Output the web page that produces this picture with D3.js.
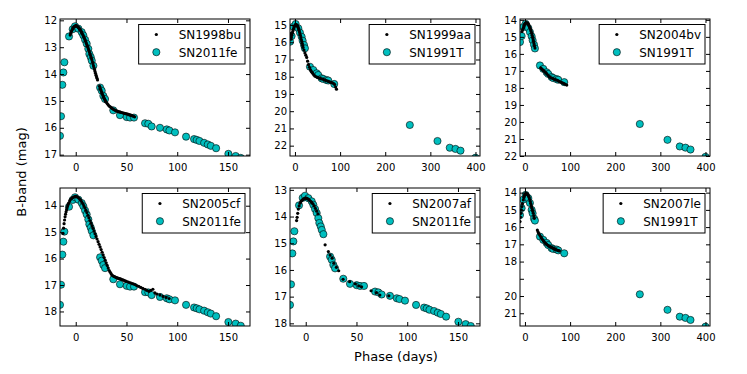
<!DOCTYPE html>
<html>
<head>
<meta charset="utf-8">
<script src="https://cdn.jsdelivr.net/npm/d3@7/dist/d3.min.js"></script>
<style>
body { margin: 0; background: #fff; }
text { font-family: "DejaVu Sans", sans-serif; }
</style>
</head>
<body>
<div id="chart"></div>
<script>

// ---- data: [phase (days), B mag] ----

// black dots, one SN per panel
var sn1998bu = [[-5.5,12.55],[-5,12.48],[-4.5,12.43],[-4,12.39],[-3.5,12.35],[-3,12.31],[-2.5,12.28],[-2,12.25],
    [-1.5,12.23],[-1,12.22],[-0.5,12.21],[0,12.2],[0.5,12.2],[1,12.21],[1.5,12.22],[2,12.24],[2.5,12.26],[3,12.28],
    [3.5,12.3],[4,12.33],[4.5,12.36],[5,12.39],[5.5,12.42],[6,12.46],[6.5,12.5],[7,12.54],[7.5,12.58],[8,12.62],
    [8.5,12.66],[9,12.71],[9.5,12.76],[10,12.81],[10.5,12.86],[11,12.91],[11.5,12.96],[12,13.01],[12.5,13.07],
    [13,13.12],[13.5,13.18],[14,13.24],[14.5,13.3],[15,13.36],[15.5,13.42],[16,13.48],[16.5,13.55],[17,13.62],
    [17.5,13.69],[18,13.76],[18.5,13.83],[19,13.9],[19.5,13.97],[20,14.04],[20.5,14.1],[21,14.16],[21.5,14.22],
    [23.5,14.45],[24,14.52],[24.5,14.57],[25,14.62],[25.5,14.67],[26,14.72],[26.5,14.77],[27,14.82],[27.5,14.86],
    [28,14.9],[28.5,14.94],[29,14.98],[29.5,15.02],[30,15.05],[31,15.1],[32,15.15],[33,15.19],[34,15.22],[35,15.25],
    [36,15.28],[37,15.31],[38,15.33],[39,15.35],[40,15.37],[41,15.38],[42,15.4],[43,15.41],[44,15.42],[45,15.43],
    [46,15.44],[47,15.45],[48,15.46],[49,15.47],[50,15.48],[51,15.49],[52,15.5],[53,15.52],[54,15.53],[55,15.54],
    [56,15.56],[57,15.57],[58,15.59]];

var sn1999aa = [[-11,15.5],[-10,15.62],[-9,15.82],[-8,15.72],[-7,15.6],[-6,15.48],[-5,15.38],[-4,15.28],[-3,15.2],
    [-2,15.12],[-1,15.06],[0,15.02],[1,14.98],[2,14.97],[3,14.98],[4,15.0],[5,15.03],[6,15.08],[7,15.14],[8,15.21],
    [9,15.3],[10,15.4],[11,15.5],[12,15.6],[13,15.72],[14,15.84],[15,15.95],[16,16.06],[17,16.18],[18,16.3],
    [20,16.45],[22,16.62],[24,16.75],[26,16.88],[28,17.1],[30,17.3],[32,17.45],[34,17.58],[36,17.68],[38,17.76],
    [40,17.83],[42,17.9],[44,17.96],[47,18.0],[50,18.04],[53,18.07],[56,18.1],[59,18.12],[62,18.14],[65,18.18],
    [68,18.21],[71,18.24],[74,18.27],[77,18.3],[80,18.33],[83,18.36],[86,18.4],[88,18.45],[90,18.6],[92,18.72]];

var sn2004bv = [[-6.7,14.69],[-5.2,14.58],[-3.7,14.49],[-2.6,14.4],[-1.5,14.3],[-0.4,14.24],[0.7,14.2],[2.2,14.17],
    [3.7,14.16],[5.2,14.19],[6.3,14.22],[7.4,14.24],[8.5,14.31],[9.6,14.39],[10.6,14.46],[11.6,14.52],[12.6,14.59],
    [13.7,14.68],[14.8,14.78],[15.9,14.9],[17,15.02],[17.8,15.11],[18.5,15.21],[19.3,15.3],[20,15.4],[21.1,15.53],
    [22.2,15.66],[34.8,16.82],[36.8,16.88],[38.8,16.93],[40.7,16.98],[42.7,17.02],[44.6,17.07],[46.6,17.11],
    [49,17.19],[51.5,17.27],[54,17.35],[56.9,17.39],[59.9,17.43],[62.9,17.46],[65.4,17.49],[67.9,17.52],[70.4,17.54],
    [72.9,17.57],[75.3,17.61],[77.8,17.64],[80.3,17.67],[82.7,17.7],[85.2,17.73],[87.7,17.76],[90.1,17.8],[92.6,17.83]];

var sn2005cf = [[-12.5,15.05],[-12,14.85],[-11.5,14.68],[-11,14.54],[-10.5,14.42],[-10,14.32],[-9.5,14.23],[-9,14.15],
    [-8.5,14.08],[-8,14.01],[-7.5,13.95],[-7,13.9],[-6,13.82],[-5,13.76],[-4,13.72],[-3,13.69],[-2,13.67],[-1,13.66],
    [0,13.65],[1,13.66],[2,13.68],[3,13.71],[4,13.75],[5,13.8],[6,13.86],[7,13.93],[8,14.0],[9,14.08],[10,14.17],
    [11,14.26],[12,14.36],[13,14.46],[14,14.56],[15,14.66],[16,14.76],[17,14.86],[18,14.96],[19,15.06],[20,15.16],
    [21,15.26],[22,15.36],[23,15.46],[24,15.56],[25,15.66],[26,15.76],[27,15.86],[28,15.96],[29,16.06],[30,16.16],
    [31,16.26],[32,16.36],[33,16.45],[34,16.52],[35,16.58],[36,16.63],[37,16.66],[38,16.68],[39,16.7],[40,16.72],
    [41,16.73],[42,16.75],[43,16.76],[44,16.77],[45,16.79],[46,16.8],[47,16.81],[48,16.83],[49,16.85],[50,16.86],
    [52,16.89],[54,16.92],[56,16.95],[58,16.98],[60,17.02],[62,17.05],[64,17.09],[66,17.13],[68,17.16],[70,17.2],
    [72,17.24],[74,17.2],[76,17.16],[78,17.3],[80,17.34],[83,17.38],[86,17.43],[89,17.47],[92,17.51]];

var sn2007af = [[-9,14.15],[-8.5,14.03],[-7.9,13.88],[-7.3,13.72],[-6.5,13.6],[-5.6,13.5],[-4.8,13.44],[-4,13.4],
    [-3.2,13.37],[-2.4,13.35],[-1.5,13.33],[-0.5,13.31],[0.3,13.31],[1.2,13.32],[2,13.34],[3,13.36],[4,13.4],
    [5.2,13.44],[6.2,13.49],[7.2,13.53],[8.3,13.6],[9.5,13.69],[10.8,13.8],[12,13.9],[19.1,15.06],[22.3,15.31],
    [24,15.44],[26,15.56],[27.6,15.75],[30.2,15.9],[32.5,16.03],[36.8,16.35],[43.3,16.44],[48.9,16.52],[52.2,16.6],
    [55,16.63],[64.4,16.78],[69.7,16.85],[73,16.94],[81.9,16.97]];

var sn2007le = [[-11,15.68],[-10,15.42],[-9,15.2],[-8,15.0],[-6.7,14.81],[-5.5,14.64],[-3.7,14.42],[-2.5,14.28],
    [-1.5,14.19],[-0.7,14.13],[0.5,14.08],[1.5,14.05],[2.2,14.04],[3.5,14.05],[4.5,14.07],[5.5,14.1],[6.7,14.13],
    [7.7,14.18],[8.6,14.24],[9.6,14.3],[10.6,14.4],[11.6,14.5],[12.6,14.62],[13.6,14.72],[14.6,14.82],[15.6,14.91],
    [16.6,15.01],[17.5,15.1],[18.5,15.2],[19.6,15.35],[20.7,15.49],[27.4,16.17],[28.9,16.27],[30.4,16.36],
    [32.6,16.46],[34.8,16.55],[36.8,16.64],[38.8,16.72],[40.7,16.79],[42.6,16.85],[44.4,16.91],[46.2,16.96],
    [48,17.0],[50,17.04],[52,17.08],[53.8,17.11],[55.6,17.13],[57.5,17.16],[59.3,17.19],[61.2,17.21],[63,17.23],
    [64.8,17.26],[66.7,17.28],[68.5,17.31],[70.4,17.33],[72.4,17.35],[74.3,17.37],[76.3,17.38]];

// cyan comparison curves
var sn2011fePhase = [-15.5,-14.5,-13.2,-12.2,-11.2,-6.6,-3,-0.7,2.6,5.9,7.5,9.2,10.8,12.4,13.4,14.8,15.8,17.4,
    24,25.6,27.2,28.9,37,43.6,50.2,53.5,57.4,68.3,71.5,74.8,83,89.7,92.3,97.8,108.7,116.6,119.2,121.9,126.5,
    130.1,133.1,138.3,150.4,157.6,162.6];
var sn2011feMag1 = [16.3,15.57,14.4,13.94,13.56,12.6,12.33,12.22,12.31,12.44,12.56,12.72,12.87,13.06,13.25,13.37,
    13.5,13.69,14.5,14.62,14.81,14.93,15.35,15.53,15.6,15.62,15.62,15.83,15.85,15.95,16.0,16.06,16.1,16.17,16.33,
    16.42,16.45,16.49,16.56,16.62,16.67,16.76,16.97,17.05,17.12];
var sn2011feMag4 = [17.75,16.99,15.85,15.36,14.98,14.04,13.78,13.68,13.77,13.9,14.02,14.18,14.33,14.52,14.7,14.83,
    14.96,15.12,15.95,16.08,16.24,16.36,16.78,16.97,17.03,17.06,17.06,17.27,17.28,17.38,17.45,17.5,17.54,17.58,
    17.75,17.85,17.88,17.92,17.97,18.03,18.08,18.18,18.4,18.46,18.54];
var sn2011feMag5 = [17.31,16.54,15.38,14.93,14.55,13.58,13.3,13.22,13.31,13.43,13.56,13.72,13.87,14.06,14.24,14.37,
    14.5,14.66,15.5,15.62,15.81,15.94,16.33,16.52,16.57,16.6,16.6,16.81,16.84,16.92,16.97,17.06,17.09,17.15,17.31,
    17.41,17.44,17.49,17.54,17.6,17.65,17.75,17.94,18.03,18.1];

var sn1991tPhase = [-11,-7.4,-3.7,1.5,7.4,11,14.8,17,20,22.1,33.2,40.6,48,51.6,59,62.7,70,73.8,87,
    254.5,315.8,343,355.7,366.8,400];
var sn1991tMag2 = [15.97,15.64,15.1,14.94,15.19,15.44,15.68,15.91,16.16,16.35,17.42,17.61,17.8,17.9,18.09,18.13,
    18.19,18.22,18.42,20.8,21.73,22.12,22.19,22.29,22.7];
var sn1991tMag3 = [15.3,14.95,14.42,14.23,14.48,14.72,14.97,15.2,15.46,15.68,16.68,16.88,17.08,17.18,17.36,17.42,
    17.48,17.52,17.66,20.12,21.05,21.44,21.51,21.62,22.05];
var sn1991tMag6 = [15.3,14.9,14.4,14.13,14.32,14.6,15.0,15.2,15.5,15.62,16.55,16.74,16.92,17.04,17.22,17.27,
    17.3,17.35,17.52,19.9,20.8,21.2,21.27,21.39,21.78];

// ticks
var xTicksShort = [0, 50, 100, 150];
var xTicksLong = [0, 100, 200, 300, 400];

var panels = [
    {col: 0, row: 0, black: sn1998bu, blackName: "SN1998bu", cyanPhase: sn2011fePhase, cyanMag: sn2011feMag1, cyanName: "SN2011fe",
     xDomain: [-15.5, 171.7], yDomain: [11.95, 17.05], xTicks: xTicksShort, yTicks: [12,13,14,15,16,17]},
    {col: 1, row: 0, black: sn1999aa, blackName: "SN1999aa", cyanPhase: sn1991tPhase, cyanMag: sn1991tMag2, cyanName: "SN1991T",
     xDomain: [-11, 410], yDomain: [14.65, 22.6], xTicks: xTicksLong, yTicks: [15,16,17,18,19,20,21,22]},
    {col: 2, row: 0, black: sn2004bv, blackName: "SN2004bv", cyanPhase: sn1991tPhase, cyanMag: sn1991tMag3, cyanName: "SN1991T",
     xDomain: [-11, 410], yDomain: [13.95, 22.0], xTicks: xTicksLong, yTicks: [14,15,16,17,18,19,20,21,22]},
    {col: 0, row: 1, black: sn2005cf, blackName: "SN2005cf", cyanPhase: sn2011fePhase, cyanMag: sn2011feMag4, cyanName: "SN2011fe",
     xDomain: [-15.5, 171.7], yDomain: [13.33, 18.55], xTicks: xTicksShort, yTicks: [14,15,16,17,18]},
    {col: 1, row: 1, black: sn2007af, blackName: "SN2007af", cyanPhase: sn2011fePhase, cyanMag: sn2011feMag5, cyanName: "SN2011fe",
     xDomain: [-15.5, 171.7], yDomain: [12.93, 18.1], xTicks: xTicksShort, yTicks: [13,14,15,16,17,18]},
    // the "19" label is not printed in this panel of the original, only its tick
    {col: 2, row: 1, black: sn2007le, blackName: "SN2007le", cyanPhase: sn1991tPhase, cyanMag: sn1991tMag6, cyanName: "SN1991T",
     xDomain: [-11, 410], yDomain: [13.73, 21.74], xTicks: xTicksLong, yTicks: [14,15,16,17,18,19,20,21], yHide: [19]}
];

// ---- layout ----
var W = 747, H = 374;
var colX = [60, 290, 520], panelW = 190;
var rowY = [19, 188], rowH = [137, 138];
var cyan = "#00bfbf";
var refR = 3.6, dotR = 1.6;

var svg = d3.select("#chart").append("svg")
    .attr("width", W)
    .attr("height", H);

panels.forEach(function(p, i) {
    var h = rowH[p.row];
    var g = svg.append("g")
        .attr("transform", "translate(" + colX[p.col] + "," + rowY[p.row] + ")");

    var x = d3.scaleLinear().domain(p.xDomain).range([0, panelW]);
    // magnitudes: bright on top
    var y = d3.scaleLinear().domain(p.yDomain).range([0, h]);

    g.append("clipPath").attr("id", "clip" + i)
        .append("rect").attr("width", panelW).attr("height", h);

    var plot = g.append("g").attr("clip-path", "url(#clip" + i + ")");

    plot.selectAll(".ref")
        .data(p.cyanPhase)
        .enter().append("circle")
        .attr("class", "ref")
        .attr("cx", function(d) { return x(d); })
        .attr("cy", function(d, j) { return y(p.cyanMag[j]); })
        .attr("r", refR)
        .attr("fill", cyan)
        .attr("stroke", "#000")
        .attr("stroke-width", 0.6);

    plot.selectAll(".dot")
        .data(p.black)
        .enter().append("circle")
        .attr("class", "dot")
        .attr("cx", function(d) { return x(d[0]); })
        .attr("cy", function(d) { return y(d[1]); })
        .attr("r", dotR)
        .attr("fill", "#000");

    // axes, ticks pointing inwards on all four sides
    var fmt = d3.format("d");
    var hide = p.yHide || [];
    var yFmt = function(d) { return hide.indexOf(d) >= 0 ? "" : fmt(d); };
    var xb = g.append("g").attr("transform", "translate(0," + h + ")")
        .call(d3.axisBottom(x).tickValues(p.xTicks).tickSize(-4).tickPadding(8).tickFormat(fmt));
    var xt = g.append("g")
        .call(d3.axisTop(x).tickValues(p.xTicks).tickSize(-4).tickFormat(""));
    var yl = g.append("g")
        .call(d3.axisLeft(y).tickValues(p.yTicks).tickSize(-4).tickPadding(3).tickFormat(yFmt));
    var yr = g.append("g").attr("transform", "translate(" + panelW + ",0)")
        .call(d3.axisRight(y).tickValues(p.yTicks).tickSize(-4).tickFormat(""));

    [xb, xt, yl, yr].forEach(function(a) {
        a.select(".domain").remove();
        a.selectAll("line").attr("stroke", "#000");
        a.selectAll("text").attr("font-size", "10px").attr("fill", "#000")
            .attr("font-family", "DejaVu Sans, sans-serif");
    });

    g.append("rect")
        .attr("width", panelW).attr("height", h)
        .attr("fill", "none").attr("stroke", "#000").attr("stroke-width", 1);

    // legend, upper right
    var leg = g.append("g");
    var t1 = leg.append("text").text(p.blackName).attr("font-size", "12px");
    var t2 = leg.append("text").text(p.cyanName).attr("font-size", "12px");
    var tw = Math.max(t1.node().getComputedTextLength(), t2.node().getComputedTextLength());
    var boxR = panelW - 5, boxL = boxR - 4 - tw - 40, boxT = 5.5, boxH = 39.5;
    leg.insert("rect", "text")
        .attr("x", boxL).attr("y", boxT).attr("width", boxR - boxL).attr("height", boxH)
        .attr("fill", "#fff").attr("stroke", "#000").attr("stroke-width", 1);
    t1.attr("x", boxL + 40).attr("y", boxT + 10 + 4.3);
    t2.attr("x", boxL + 40).attr("y", boxT + 27.7 + 4.3);
    leg.append("circle").attr("cx", boxL + 17.7).attr("cy", boxT + 10).attr("r", dotR).attr("fill", "#000");
    leg.append("circle").attr("cx", boxL + 17.7).attr("cy", boxT + 27.7).attr("r", refR)
        .attr("fill", cyan).attr("stroke", "#000").attr("stroke-width", 0.6);
});

// shared axis labels
svg.append("text")
    .attr("x", 396).attr("y", 361)
    .attr("text-anchor", "middle")
    .attr("font-size", "13px")
    .text("Phase (days)");

svg.append("text")
    .attr("transform", "translate(26,172) rotate(-90)")
    .attr("text-anchor", "middle")
    .attr("font-size", "13px")
    .text("B-band (mag)");

</script>
</body>
</html>
